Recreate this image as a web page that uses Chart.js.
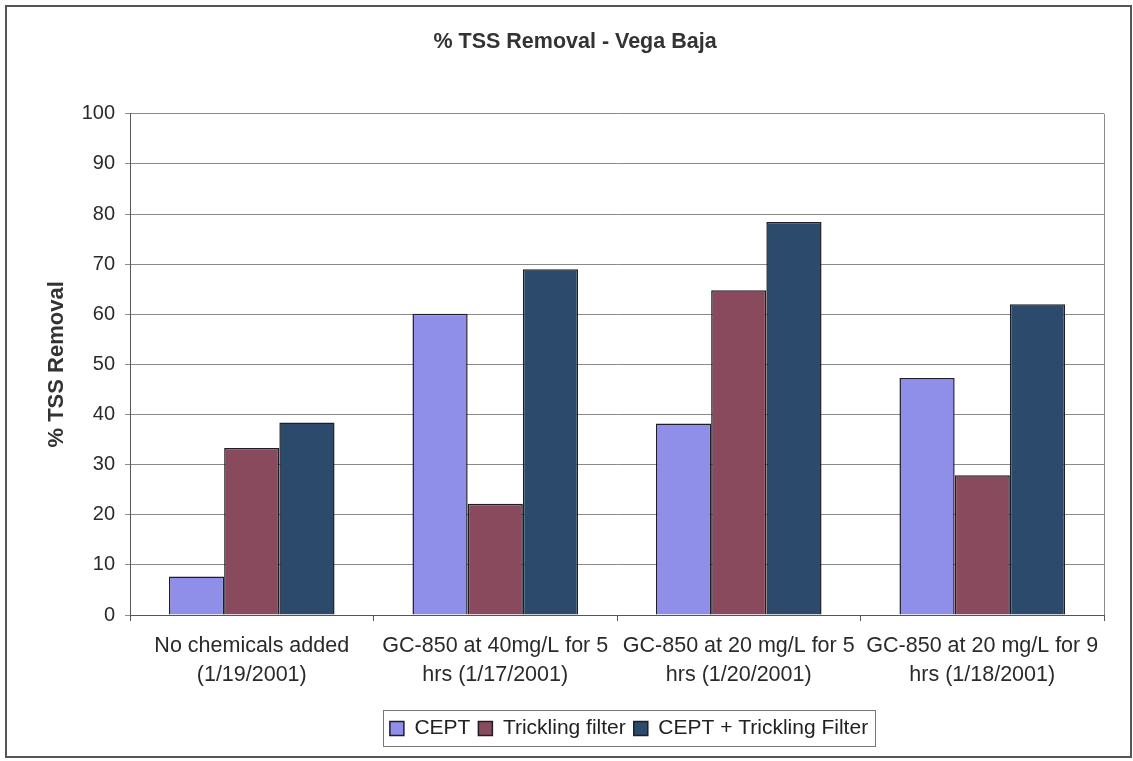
<!DOCTYPE html>
<html>
<head>
<meta charset="utf-8">
<script src="https://cdn.jsdelivr.net/npm/chart.js@4/dist/chart.umd.min.js"></script>
<style>
  html, body { margin: 0; padding: 0; background: #fff; }
  #wrap { width: 1133px; height: 761px; }
</style>
</head>
<body>
<div id="wrap"><canvas id="tss"></canvas></div>
<script>
// categories (two-line tick labels)
var categories = [
  ['No chemicals added', '(1/19/2001)'],
  ['GC-850 at 40mg/L for 5', 'hrs (1/17/2001)'],
  ['GC-850 at 20 mg/L for 5', 'hrs (1/20/2001)'],
  ['GC-850 at 20 mg/L for 9', 'hrs (1/18/2001)']
];
// % TSS removal per process
var cept = [7.7, 60.1, 38.2, 47.3];
var tricklingFilter = [33.3, 22.2, 64.8, 27.9];
var ceptPlusTf = [38.4, 69.0, 78.4, 62.0];
var yTicks = [0, 10, 20, 30, 40, 50, 60, 70, 80, 90, 100];

var FONT = "'Liberation Sans', Arial, sans-serif";

// frame round the whole chart, plot border and legend box
var framePlugin = {
  id: 'frames',
  afterLayout: function(chart) {
    // legend sits right of centre in the original
    chart.legend.left += 54;
    chart.legend.right += 54;
  },
  beforeDraw: function(chart) {
    var c = chart.ctx;
    c.save();
    c.fillStyle = '#fff';
    c.fillRect(0, 0, chart.width, chart.height);
    c.restore();
  },
  afterDraw: function(chart) {
    var c = chart.ctx;
    var a = chart.chartArea;
    c.save();
    c.strokeStyle = '#555';
    c.lineWidth = 2;
    c.strokeRect(6, 6, chart.width - 8, chart.height - 10);

    c.strokeStyle = '#8a8a8a';
    c.lineWidth = 1;
    c.beginPath();
    c.moveTo(Math.round(a.right) + 0.5, a.top);
    c.lineTo(Math.round(a.right) + 0.5, a.bottom);
    c.stroke();

    var boxes = chart.legend.legendHitBoxes;
    if (boxes && boxes.length) {
      var l = Infinity, r = -Infinity, t = Infinity, b = -Infinity;
      boxes.forEach(function(h) {
        l = Math.min(l, h.left); r = Math.max(r, h.left + h.width);
        t = Math.min(t, h.top); b = Math.max(b, h.top + h.height);
      });
      c.strokeStyle = '#777';
      c.strokeRect(Math.round(l - 7) + 0.5, Math.round(t - 8) + 0.5, Math.round(r - l + 14), Math.round(b - t + 15));
    }
    c.restore();
  }
};

var ctx = document.getElementById('tss').getContext('2d');
var chart = new Chart(ctx, {
  type: 'bar',
  data: {
    labels: categories,
    datasets: [{
      label: 'CEPT',
      data: cept,
      backgroundColor: '#8f8fea',
      borderColor: '#1e1e28',
      borderWidth: 1.5
    }, {
      label: 'Trickling filter',
      data: tricklingFilter,
      backgroundColor: '#8a4a5d',
      borderColor: '#1e1e28',
      borderWidth: 1.5
    }, {
      label: 'CEPT + Trickling Filter',
      data: ceptPlusTf,
      backgroundColor: '#2b4a6c',
      borderColor: '#1e1e28',
      borderWidth: 1.5
    }]
  },
  options: {
    responsive: true,
    maintainAspectRatio: false,
    animation: false,
    devicePixelRatio: 1,
    layout: { padding: { left: 46, right: 29, top: 0, bottom: 12 } },
    datasets: { bar: { categoryPercentage: 0.68, barPercentage: 1.0 } },
    plugins: {
      title: {
        display: true,
        text: '% TSS Removal - Vega Baja',
        color: '#333',
        font: { family: FONT, size: 21.5, weight: 'bold', lineHeight: 1.2 },
        padding: { top: 29, bottom: 59 }
      },
      legend: {
        position: 'bottom',
        labels: {
          color: '#222',
          font: { family: FONT, size: 21 },
          boxWidth: 14,
          boxHeight: 14,
          padding: 8,
          useBorderRadius: false
        }
      },
      tooltip: { enabled: false }
    },
    scales: {
      x: {
        afterFit: function(s) { s.height = 95; },
        grid: { drawOnChartArea: false, drawTicks: true, tickLength: 6, color: '#555', offset: true },
        border: { color: '#555', width: 1 },
        ticks: {
          color: '#2a2a2a',
          padding: 11,
          maxRotation: 0,
          autoSkip: false,
          font: { family: FONT, size: 21.5, lineHeight: 1.33 }
        }
      },
      y: {
        min: 0,
        max: 100,
        afterFit: function(s) { s.width = 84; },
        afterBuildTicks: function(s) { s.ticks = yTicks.map(function(v) { return { value: v }; }); },
        grid: { color: '#8a8a8a', lineWidth: 1, tickLength: 5 },
        border: { color: '#555', width: 1 },
        ticks: {
          color: '#2a2a2a',
          padding: 10,
          font: { family: FONT, size: 20 }
        },
        title: {
          display: true,
          text: '% TSS Removal',
          color: '#333',
          font: { family: FONT, size: 22, weight: 'bold', lineHeight: 1.0 },
          padding: { top: 0, bottom: 0 }
        }
      }
    }
  },
  plugins: [framePlugin]
});
</script>
</body>
</html>
